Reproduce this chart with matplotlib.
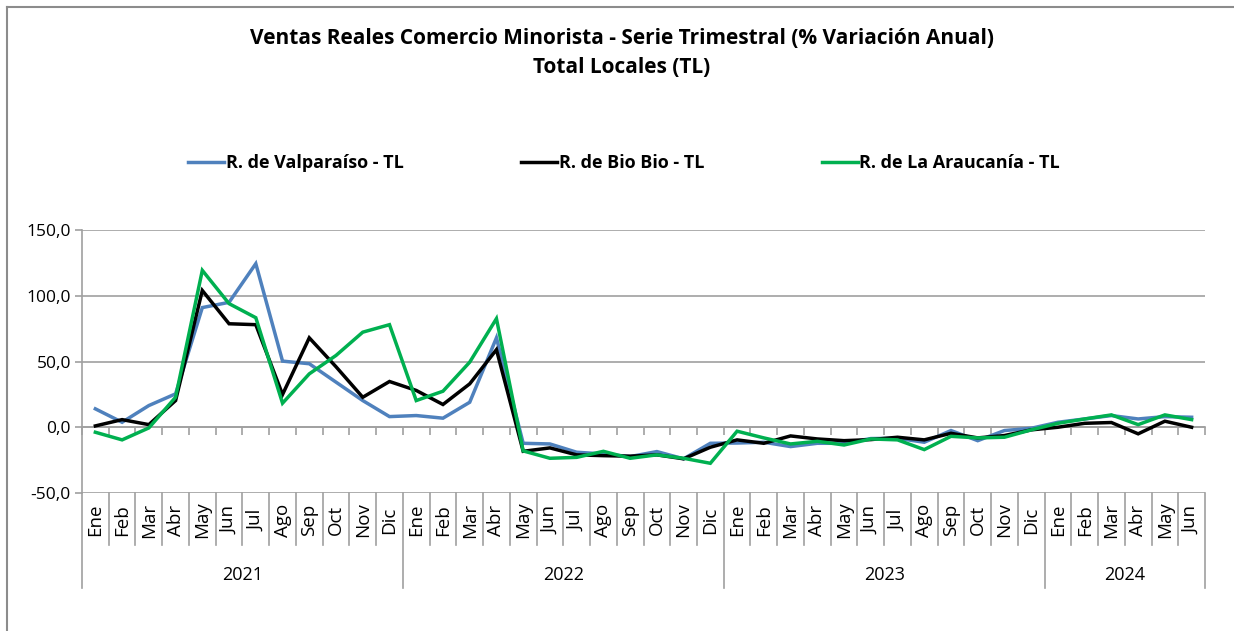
import matplotlib
matplotlib.use("Agg")
import matplotlib.pyplot as plt
from matplotlib import font_manager
from matplotlib.ticker import FuncFormatter, FixedLocator
import matplotlib.transforms as mtransforms

names = {f.name for f in font_manager.fontManager.ttflist}
FONT = 'Liberation Sans Narrow' if 'Liberation Sans Narrow' in names else 'Open Sans'
plt.rcParams['font.family'] = [FONT, 'DejaVu Sans']

# ---- data ----
months = ["Ene", "Feb", "Mar", "Abr", "May", "Jun", "Jul", "Ago", "Sep", "Oct", "Nov", "Dic"]
years = ["2021", "2022", "2023", "2024"]
months_per_year = [12, 12, 12, 6]
categories = [m for y, n in zip(years, months_per_year) for m in months[:n]]

valparaiso = [14.0, 3.8, 16.5, 25.4, 91.0, 95.0, 124.4, 50.3, 48.3, 34.3, 20.3, 8.1,
              8.9, 6.9, 19.0, 68.0, -12.2, -12.7, -19.0, -20.3, -22.3, -18.5, -24.0, -12.2,
              -12.0, -11.4, -14.7, -12.2, -12.2, -8.6, -8.4, -11.4, -2.5, -10.2, -2.5, -0.8,
              3.8, 6.3, 8.9, 6.3, 8.1, 7.6]
biobio = [1.0, 5.8, 2.0, 20.3, 104.0, 78.7, 78.0, 24.9, 68.0, 46.0, 22.8, 34.8,
          28.0, 17.3, 33.0, 59.0, -18.3, -15.7, -21.0, -21.6, -22.0, -21.0, -24.0, -15.2,
          -9.6, -12.2, -6.6, -8.9, -10.2, -9.4, -7.6, -9.6, -4.6, -8.1, -6.3, -2.0,
          0.0, 3.0, 3.6, -5.0, 4.6, 0.0]
araucania = [-3.8, -9.6, -0.5, 22.8, 119.3, 94.0, 83.3, 18.3, 40.6, 54.6, 72.3, 78.0,
             20.3, 27.4, 49.5, 82.6, -18.0, -23.6, -22.9, -18.3, -23.6, -21.0, -23.6, -27.4,
             -3.0, -8.1, -12.7, -10.7, -13.5, -8.9, -9.6, -17.0, -6.9, -8.1, -7.6, -2.0,
             3.0, 6.3, 9.4, 2.0, 9.4, 5.8]
series_names = ["R. de Valparaíso - TL", "R. de Bio Bio - TL", "R. de La Araucanía - TL"]
series_colors = ["#4F81BD", "#000000", "#00B050"]
yticks = [-50, 0, 50, 100, 150]

title = "Ventas Reales Comercio Minorista - Serie Trimestral (% Variación Anual)\nTotal Locales (TL)"

# ---- figure ----
W, H = 1234, 631
fig = plt.figure(figsize=(W / 100, H / 100), dpi=100)
fig.patch.set_facecolor("white")

# outer frame (top + left)
fig.add_artist(plt.Line2D([7 / W, 1], [1 - 6.5 / H, 1 - 6.5 / H], transform=fig.transFigure,
                          color="#8c8c8c", lw=1.5))
fig.add_artist(plt.Line2D([7 / W, 7 / W], [0, 1 - 6.5 / H], transform=fig.transFigure,
                          color="#8c8c8c", lw=1.5))

ax = fig.add_axes([82 / W, 1 - 493 / H, (1205 - 82) / W, (493 - 230) / H])
x = list(range(len(categories)))
for vals, name, col in zip([valparaiso, biobio, araucania], series_names, series_colors):
    ax.plot(x, vals, color=col, lw=2.5, label=name, solid_joinstyle="miter", zorder=3)

ax.set_xlim(-0.5, len(categories) - 0.5)
ax.set_ylim(yticks[0], yticks[-1])
ax.yaxis.set_major_locator(FixedLocator(yticks))
ax.yaxis.set_major_formatter(FuncFormatter(lambda v, p: f"{v:.1f}".replace(".", ",")))
ax.grid(axis="y", color="#a0a0a0", lw=1.2, zorder=0)
ax.set_axisbelow(True)
for s in ["top", "right"]:
    ax.spines[s].set_visible(False)
ax.spines["left"].set_color("#a0a0a0")
ax.spines["left"].set_linewidth(1.2)
ax.spines["bottom"].set_position(("data", 0))
ax.spines["bottom"].set_color("#a0a0a0")
ax.spines["bottom"].set_linewidth(1.2)
bounds = [i - 0.5 for i in range(len(categories) + 1)]
ax.set_xticks(bounds)
ax.set_xticklabels([])
ax.tick_params(axis="x", direction="out", length=6, width=1.2, color="#a0a0a0")
ax.tick_params(axis="y", direction="out", length=5, width=1.2, color="#a0a0a0",
               labelsize=12.5, pad=3, labelcolor="#000000")

trans = mtransforms.blended_transform_factory(ax.transData, ax.transAxes)
ah = 493 - 230
y_month_bot = -(545 - 493) / ah
y_year_bot = -(588 - 493) / ah
y_month_txt = -(520 - 493) / ah
y_year_txt = -(575 - 493) / ah

# year boundaries
year_bounds = [-0.5]
for n in months_per_year:
    year_bounds.append(year_bounds[-1] + n)

for b in bounds:
    bot = y_year_bot if b in year_bounds else y_month_bot
    ax.plot([b, b], [0, bot], transform=trans, color="#a0a0a0", lw=1.2, clip_on=False)

for i, m in enumerate(categories):
    ax.text(i, y_month_txt, m, transform=trans, rotation=90, ha="center", va="center",
            fontsize=13.5)
for k, yr in enumerate(years):
    mid = (year_bounds[k] + year_bounds[k + 1]) / 2
    ax.text(mid, y_year_txt, yr, transform=trans, ha="center", va="center", fontsize=13)

fig.text(622 / W, 1 - 53 / H, title, ha="center", va="center", fontsize=15,
         fontweight="bold", linespacing=1.55)

leg = fig.legend(loc="center", bbox_to_anchor=(624 / W, 1 - 163 / H), ncol=3, frameon=False,
                 handlelength=2.0, handletextpad=0.1, columnspacing=6.5,
                 prop={"weight": "bold", "size": 13})

fig.savefig("out.png", dpi=100, facecolor="white")
